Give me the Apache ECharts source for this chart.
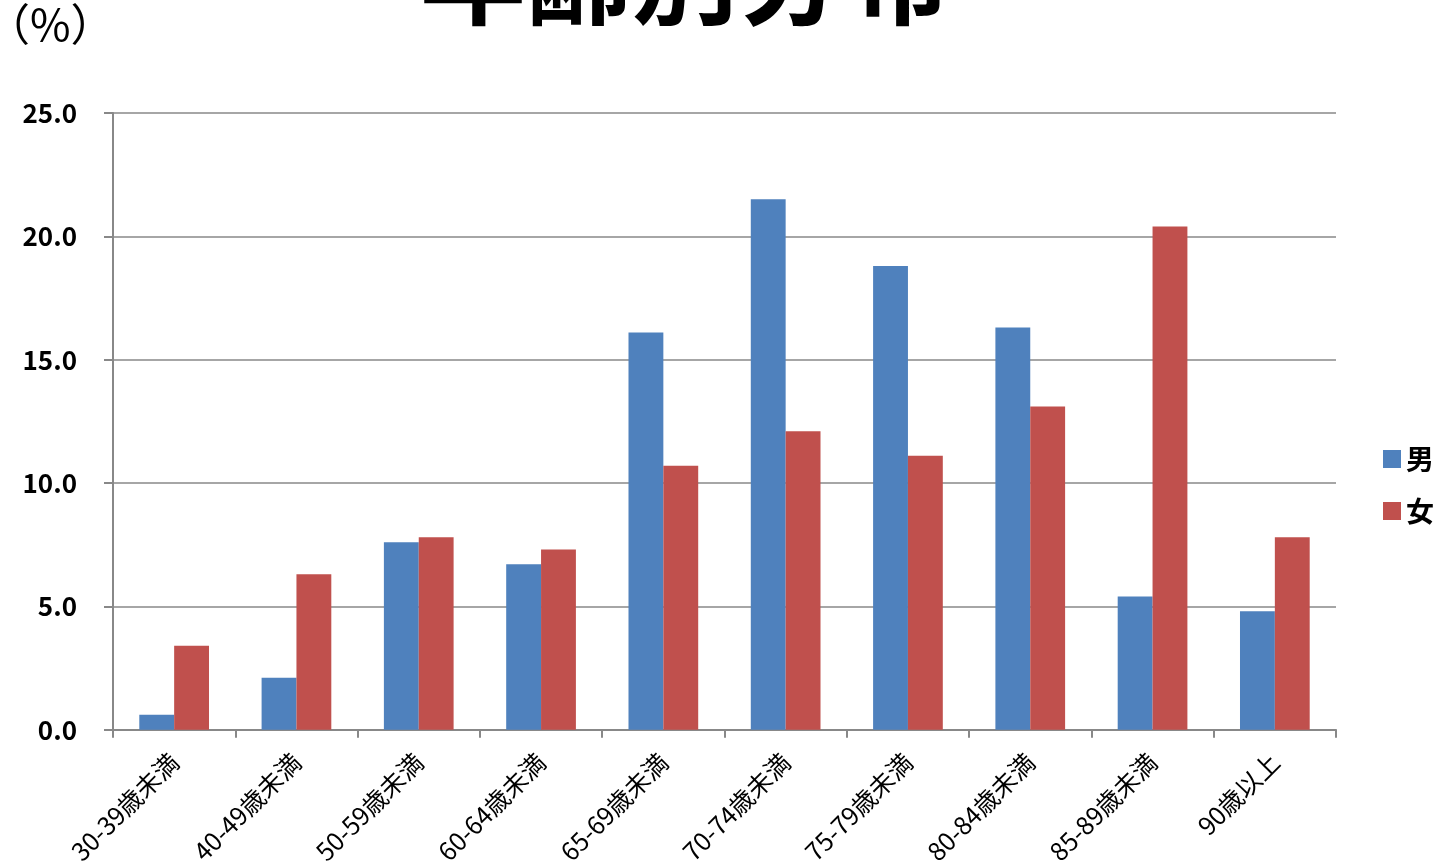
<!DOCTYPE html>
<html><head><meta charset="utf-8">
<script src="https://cdn.jsdelivr.net/npm/echarts@6/dist/echarts.min.js"></script>
<style>html,body{margin:0;padding:0;background:#fff}#c{width:1443px;height:867px}</style>
</head><body><div id="c"></div>
<script>
const categories = ['30-39歳未満','40-49歳未満','50-59歳未満','60-64歳未満','65-69歳未満','70-74歳未満','75-79歳未満','80-84歳未満','85-89歳未満','90歳以上'];
const male = [0.6, 2.1, 7.6, 6.7, 16.1, 21.5, 18.8, 16.3, 5.4, 4.8];
const female = [3.4, 6.3, 7.8, 7.3, 10.7, 12.1, 11.1, 13.1, 20.4, 7.8];
const seriesNames = ['男','女'];
const FONT = '"Noto Sans CJK JP", "Noto Sans", sans-serif';
const chart = echarts.init(document.getElementById('c'));
chart.setOption({
  animation: false,
  title: { text: '年齢別分布', left: 415, top: -82, textStyle: { fontSize: 106, fontWeight: 'bold', color: '#000', fontFamily: FONT } },
  graphic: [{ type: 'text', left: -14, top: 2, style: { text: '（%）', font: '44px ' + FONT, fill: '#000' } }],
  legend: { orient: 'vertical', right: 4, top: 440, itemWidth: 18, itemHeight: 18, itemGap: 24, icon: 'rect',
    textStyle: { fontSize: 28, fontWeight: 'bold', color: '#000', fontFamily: FONT }, data: seriesNames },
  grid: { left: 113, right: 107, top: 113, bottom: 137 },
  xAxis: { type: 'category', data: categories,
    axisLine: { lineStyle: { color: '#888', width: 2 } },
    axisTick: { show: true, length: 8, lineStyle: { color: '#888', width: 2 } },
    axisLabel: { rotate: 45, fontSize: 25, color: '#000', fontFamily: FONT, margin: 28, interval: 0 } },
  yAxis: { type: 'value', min: 0, max: 25, interval: 5,
    axisLine: { show: true, lineStyle: { color: '#888', width: 2 } },
    axisTick: { show: true, length: 9, lineStyle: { color: '#888', width: 2 } },
    splitLine: { lineStyle: { color: '#888', width: 1.5 } },
    axisLabel: { formatter: v => v.toFixed(1), fontSize: 26, fontWeight: 'bold', color: '#000', fontFamily: FONT, margin: 36 } },
  series: [
    { name: seriesNames[0], type: 'bar', data: male, barGap: '0%', barCategoryGap: '43%', itemStyle: { color: '#4F81BD' } },
    { name: seriesNames[1], type: 'bar', data: female, barGap: '0%', barCategoryGap: '43%', itemStyle: { color: '#C0504D' } }
  ]
});
</script></body></html>
